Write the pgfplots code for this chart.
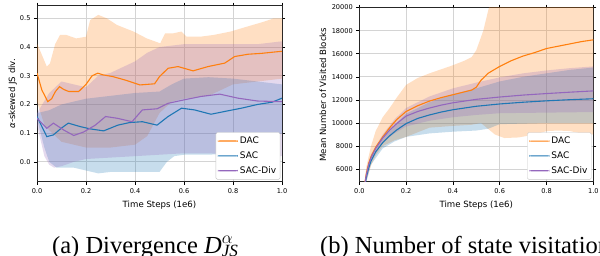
\documentclass[border=0pt]{standalone}
\usepackage{pgfplots}
\pgfplotsset{compat=1.18}
\usepackage{fontspec}
\setmainfont{Liberation Serif}
\newfontfamily\dv{DejaVu Sans}
\definecolor{cA}{HTML}{FF7F0E}
\definecolor{cB}{HTML}{1F77B4}
\definecolor{cC}{HTML}{9467BD}
\pgfplotsset{
  legA/.style={legend image code/.code={\fill[fill=cA, draw=none, fill opacity=1] (0pt,-0.6pt) rectangle (20pt,0.6pt);}},
  legB/.style={legend image code/.code={\fill[fill=cB, draw=none, fill opacity=1] (0pt,-0.6pt) rectangle (20pt,0.6pt);}},
  legC/.style={legend image code/.code={\fill[fill=cC, draw=none, fill opacity=1] (0pt,-0.6pt) rectangle (20pt,0.6pt);}},
  base/.style={
    scale only axis, anchor=south west,
    xmin=0, xmax=1, xtick={0,0.2,0.4,0.6,0.8,1},
    grid=major, major grid style={draw=black!17, line width=0.8pt},
    tick align=outside, major tick length=3pt,
    tick style={draw=black, line width=0.6pt},
    axis line style={draw=black!85, line width=0.6pt},
    /pgf/number format/assume math mode=true,
    ticklabel style={font=\dv\fontsize{6.6}{7}\selectfont},
    xticklabel style={/pgf/number format/.cd, fixed, fixed zerofill, precision=1},
    label style={font=\dv\fontsize{8.6}{9}\selectfont},
    xlabel={Time Steps (1e6)},
    xlabel style={at={(axis description cs:0.5,0)}, anchor=base, yshift=-25.5},
    legend cell align=left,
    legend style={at={(0.993,0.012)}, anchor=south east,
      font=\dv\fontsize{9}{10}\selectfont, rounded corners=1.5pt,
      fill=white, inner ysep=2.5pt, inner xsep=2pt, row sep=2.6pt},
  },
}
\begin{document}
\begin{tikzpicture}
\useasboundingbox (0pt,0pt) rectangle (600pt,255pt);
% ---------------- (a) ----------------
\begin{axis}[base, at={(37pt,73.3pt)}, width=245pt, height=176pt,
  ymin=-0.069, ymax=0.544, ytick={0,0.1,0.2,0.3,0.4,0.5},
  yticklabel style={/pgf/number format/.cd, fixed, fixed zerofill, precision=1},
  ylabel={{\itshape α}-skewed JS div.},
  ylabel style={at={(axis description cs:-0.099,0.5)}, anchor=center},
  legend style={draw=black!22}]
\addlegendimage{legA}
\addlegendentry{DAC}
\addlegendimage{legB}
\addlegendentry{SAC}
\addlegendimage{legC}
\addlegendentry{SAC-Div}
% DAC band: upper edge, then lower edge reversed
\addplot[draw=none, fill=cA, fill opacity=0.25, forget plot] table {
0 0.413
0.04 0.332
0.053 0.343
0.074 0.41
0.094 0.442
0.12 0.442
0.16 0.43
0.2 0.436
0.217 0.494
0.25 0.512
0.285 0.50
0.326 0.477
0.394 0.454
0.448 0.43
0.503 0.413
0.523 0.448
0.557 0.448
0.59 0.454
0.61 0.436
0.666 0.436
0.72 0.442
0.79 0.454
0.857 0.471
0.925 0.488
0.966 0.50
1.0 0.50
1.0 0.29
0.9 0.28
0.8 0.27
0.75 0.25
0.7 0.23
0.6 0.22
0.55 0.21
0.5 0.17
0.45 0.09
0.4 0.06
0.3 0.05
0.2 0.05
0.15 0.06
0.1 0.07
0.05 0.11
0.03 0.13
0 0.21
};
% SAC band
\addplot[draw=none, fill=cB, fill opacity=0.25, forget plot] table {
0 0.17
0.05 0.18
0.1 0.2
0.2 0.22
0.3 0.23
0.4 0.24
0.5 0.245
0.55 0.27
0.6 0.29
0.7 0.295
0.8 0.29
0.9 0.28
1.0 0.27
1.0 0.1
0.9 0.06
0.8 0.03
0.7 0.025
0.6 0.025
0.56 0.02
0.53 0.0
0.5 -0.035
0.4 -0.035
0.3 -0.035
0.25 -0.04
0.2 -0.03
0.15 -0.02
0.08 -0.02
0.05 0.0
0.03 0.05
0 0.15
};
% SAC-Div band
\addplot[draw=none, fill=cC, fill opacity=0.25, forget plot] table {
0 0.17
0.05 0.24
0.1 0.28
0.15 0.27
0.2 0.26
0.25 0.30
0.3 0.31
0.35 0.33
0.4 0.35
0.45 0.38
0.5 0.40
0.6 0.41
0.7 0.41
0.8 0.41
0.9 0.41
1.0 0.42
1.0 0.02
0.9 0.02
0.8 0.025
0.7 0.03
0.6 0.03
0.5 0.025
0.4 0.02
0.3 0.015
0.2 0.01
0.15 0.0
0.1 -0.015
0.07 -0.02
0.05 -0.01
0.03 0.02
0 0.13
};
\addplot[draw=cA, line width=1.1pt, forget plot] table {
0 0.309
0.02 0.25
0.044 0.21
0.06 0.22
0.075 0.245
0.092 0.262
0.11 0.252
0.13 0.245
0.17 0.245
0.2 0.27
0.225 0.3
0.248 0.309
0.27 0.303
0.31 0.297
0.36 0.285
0.42 0.268
0.48 0.272
0.5 0.297
0.535 0.326
0.576 0.332
0.637 0.317
0.698 0.332
0.766 0.344
0.807 0.367
0.862 0.375
0.916 0.378
0.984 0.384
1.0 0.385
};
\addplot[draw=cB, line width=1.1pt, forget plot] table {
0 0.158
0.04 0.088
0.067 0.094
0.1 0.118
0.128 0.135
0.176 0.123
0.217 0.115
0.272 0.108
0.33 0.128
0.378 0.137
0.43 0.14
0.49 0.128
0.535 0.158
0.59 0.187
0.643 0.181
0.71 0.166
0.78 0.178
0.834 0.187
0.9 0.2
0.96 0.208
1.0 0.222
};
\addplot[draw=cC, line width=1.1pt, forget plot] table {
0 0.152
0.04 0.117
0.067 0.135
0.109 0.111
0.15 0.092
0.19 0.104
0.238 0.128
0.28 0.158
0.327 0.152
0.388 0.14
0.43 0.181
0.49 0.185
0.535 0.204
0.6 0.216
0.67 0.228
0.746 0.236
0.82 0.222
0.9 0.212
0.984 0.21
1.0 0.21
};
\end{axis}
% ---------------- (b) ----------------
\begin{axis}[base, at={(359.3pt,73.3pt)}, width=234pt, height=174.2pt,
  ymin=4920, ymax=20000, ytick={6000,8000,10000,12000,14000,16000,18000,20000},
  yticklabel style={/pgf/number format/.cd, fixed, 1000 sep={}},
  scaled y ticks=false,
  ylabel={Mean Number of Visited Blocks},
  ylabel style={at={(axis description cs:-0.156,0.5)}, anchor=center},
  legend style={draw=black!22}]
\addlegendimage{legA}
\addlegendentry{DAC}
\addlegendimage{legB}
\addlegendentry{SAC}
\addlegendimage{legC}
\addlegendentry{SAC-Div}
% DAC band
\addplot[draw=none, fill=cA, fill opacity=0.25, forget plot] table {
0.02 4500
0.03 6200
0.05 8000
0.07 9300
0.1 10500
0.13 11300
0.16 12200
0.2 13300
0.25 13900
0.3 14300
0.4 15000
0.45 15400
0.48 15700
0.5 16300
0.53 18000
0.56 20500
0.6 21000
1.0 21000
1.0 9000
0.95 9100
0.9 9300
0.85 9350
0.8 9300
0.75 9000
0.68 8750
0.62 8700
0.58 9000
0.55 9500
0.52 10000
0.48 9850
0.4 9750
0.3 9600
0.2 8800
0.15 8500
0.1 8000
0.07 7200
0.05 6300
0.03 5000
0.02 4100
};
% SAC band
\addplot[draw=none, fill=cB, fill opacity=0.25, forget plot] table {
0.02 4300
0.05 7000
0.1 8700
0.15 9800
0.2 10800
0.3 11800
0.4 12500
0.5 13000
0.6 13600
0.7 14000
0.8 14300
0.9 14600
1.0 14800
1.0 10000
0.8 10000
0.6 9900
0.55 9500
0.5 9350
0.4 9250
0.3 9100
0.2 8800
0.15 8400
0.1 7800
0.05 6400
0.02 4100
};
% SAC-Div band
\addplot[draw=none, fill=cC, fill opacity=0.25, forget plot] table {
0.02 4400
0.05 7300
0.1 9000
0.15 10300
0.2 11300
0.3 12300
0.4 13000
0.5 13500
0.6 13950
0.7 14300
0.8 14550
0.9 14750
1.0 14900
1.0 10950
0.8 10900
0.6 10850
0.5 10700
0.4 10500
0.3 10200
0.2 9700
0.15 9100
0.1 8300
0.05 6700
0.02 4200
};
\addplot[draw=cA, line width=1.1pt, forget plot] table {
0.02 4300
0.03 5600
0.04 6500
0.05 7100
0.07 7900
0.1 8800
0.13 9600
0.16 10300
0.2 11000
0.25 11500
0.3 11900
0.35 12200
0.4 12450
0.45 12700
0.48 12850
0.5 13100
0.52 13700
0.55 14300
0.6 14900
0.65 15400
0.7 15800
0.75 16100
0.8 16450
0.85 16650
0.9 16850
0.95 17050
1.0 17200
};
\addplot[draw=cB, line width=1.1pt, forget plot] table {
0.02 4200
0.03 5300
0.04 6100
0.05 6700
0.07 7500
0.1 8300
0.13 8900
0.16 9400
0.2 9950
0.25 10400
0.3 10700
0.35 10950
0.4 11150
0.45 11300
0.5 11450
0.6 11650
0.7 11800
0.8 11920
0.9 12020
1.0 12100
};
\addplot[draw=cC, line width=1.1pt, forget plot] table {
0.02 4300
0.03 5500
0.04 6400
0.05 7000
0.07 7800
0.1 8700
0.13 9400
0.16 9950
0.2 10600
0.25 11000
0.3 11300
0.35 11550
0.4 11750
0.45 11900
0.5 12050
0.6 12250
0.7 12420
0.8 12550
0.9 12670
1.0 12780
};
\end{axis}
\node[anchor=base west, font=\fontsize{24.5}{27}\selectfont, inner sep=0pt] at (52pt,2pt) {(a) Divergence $\mathit{D}^{\alpha}_{\raisebox{5pt}{$\scriptstyle\mathit{JS}$}}$};
\node[anchor=base west, font=\fontsize{24.5}{27}\selectfont, inner sep=0pt] at (320pt,2pt) {(b) Number of state visitations};
\end{tikzpicture}
\end{document}
